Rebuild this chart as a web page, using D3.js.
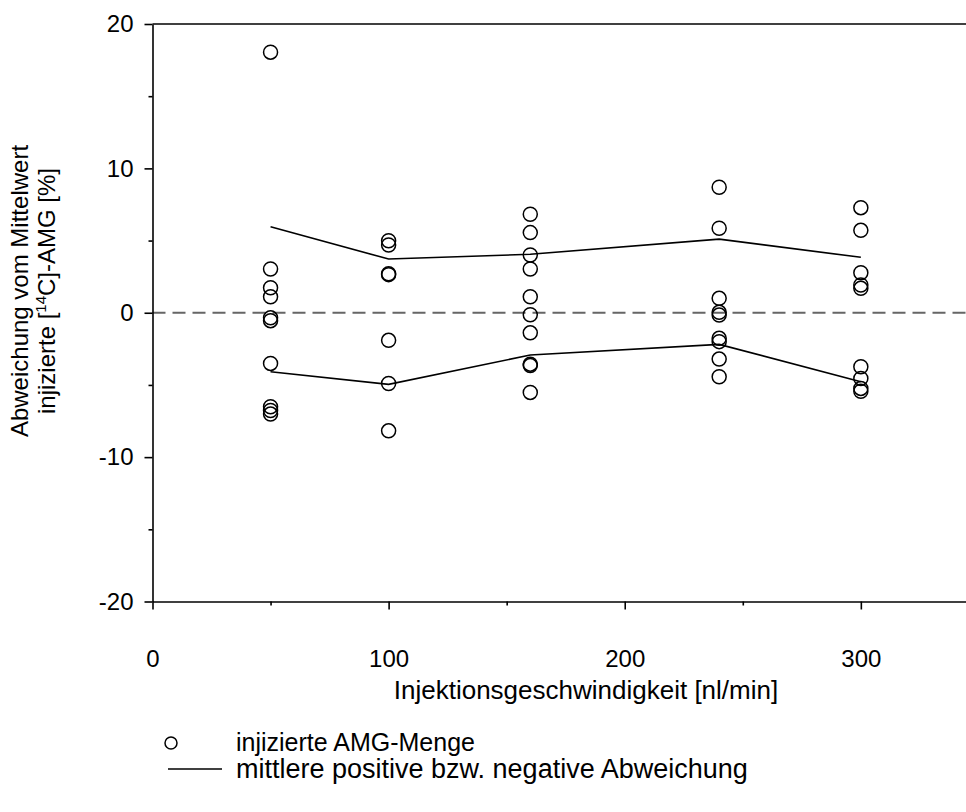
<!DOCTYPE html>
<html>
<head>
<meta charset="utf-8">
<script src="https://cdn.jsdelivr.net/npm/d3@7"></script>
<style>
  body { margin: 0; background: #fff; }
  svg { display: block; font-family: "Liberation Sans", Arial, sans-serif; }
</style>
</head>
<body>
<div id="chart"></div>
<script>
// injection speeds [nl/min]
const speeds = [50, 100, 160, 240, 300];

// deviation of each injection from mean [%], one list per speed
const points50 = [18.05, 3.03, 1.73, 1.11, -0.35, -0.55, -3.51, -6.51, -6.77, -7.02];
const points100 = [4.99, 4.69, 2.7, 2.64, -1.91, -4.9, -8.18];
const points160 = [6.82, 5.55, 4.0, 3.03, 1.11, -0.14, -1.39, -3.56, -3.66, -5.52];
const points240 = [8.69, 5.85, 1.0, 0.03, -0.16, -1.77, -2.0, -3.21, -4.43];
const points300 = [7.28, 5.71, 2.77, 1.92, 1.69, -3.74, -4.55, -5.24, -5.44];

// mean positive / negative deviation per speed
const meanPositive = [5.95, 3.72, 4.05, 5.1, 3.84];
const meanNegative = [-4.09, -4.96, -2.93, -2.19, -4.78];

const xTicks = [0, 100, 200, 300];
const yTicks = [-20, -10, 0, 10, 20];

const width = 966, height = 812;
const svg = d3.select("#chart").append("svg")
    .attr("width", width)
    .attr("height", height);

const x = d3.scaleLinear().domain([0, 350]).range([152.5, 978.9]);
const y = d3.scaleLinear().domain([-20, 20]).range([601.5, 24]);

// zero reference line
svg.append("line")
    .attr("x1", x(0)).attr("x2", x(350))
    .attr("y1", y(0)).attr("y2", y(0))
    .attr("stroke", "#666").attr("stroke-width", 2)
    .attr("stroke-dasharray", "13,7");

// frame (top and right edges)
svg.append("line")
    .attr("x1", x(0)).attr("x2", x(350))
    .attr("y1", y(20)).attr("y2", y(20))
    .attr("stroke", "#000").attr("stroke-width", 1.6);
svg.append("line")
    .attr("x1", x(350)).attr("x2", x(350))
    .attr("y1", y(20)).attr("y2", y(-20))
    .attr("stroke", "#000").attr("stroke-width", 1.6);

// axes
svg.append("g")
    .attr("transform", `translate(0,${y(-20)})`)
    .call(d3.axisBottom(x).tickValues(xTicks).tickFormat(d => d)
        .tickSize(8).tickPadding(40).tickSizeOuter(0));
svg.append("g")
    .attr("transform", `translate(0,${y(-20)})`)
    .call(d3.axisBottom(x).tickValues([50, 150, 250]).tickSize(4).tickFormat("").tickSizeOuter(0))
    .select(".domain").remove();

svg.append("g")
    .attr("transform", `translate(${x(0)},0)`)
    .call(d3.axisLeft(y).tickValues(yTicks).tickFormat(d => d)
        .tickSize(8).tickPadding(11).tickSizeOuter(0));
svg.append("g")
    .attr("transform", `translate(${x(0)},0)`)
    .call(d3.axisLeft(y).tickValues([-15, -5, 5, 15]).tickSize(4).tickFormat("").tickSizeOuter(0))
    .select(".domain").remove();

svg.selectAll(".domain, .tick line")
    .attr("stroke", "#000").attr("stroke-width", 1.6);
svg.selectAll(".tick text")
    .attr("fill", "#000")
    .style("font-size", "24px")
    .style("font-family", "'Liberation Sans', Arial, sans-serif");

// mean deviation lines
const line = d3.line()
    .x((d, i) => x(speeds[i]))
    .y(d => y(d));
[meanPositive, meanNegative].forEach(s => {
    svg.append("path")
        .datum(s)
        .attr("d", line)
        .attr("fill", "none")
        .attr("stroke", "#000")
        .attr("stroke-width", 1.6);
});

// data points
const groups = [points50, points100, points160, points240, points300];
const pts = [];
groups.forEach((g, i) => g.forEach(v => pts.push({ x: speeds[i], v })));
svg.append("g").selectAll("circle")
    .data(pts)
    .join("circle")
    .attr("cx", d => x(d.x))
    .attr("cy", d => y(d.v))
    .attr("r", 7)
    .attr("fill", "none")
    .attr("stroke", "#000")
    .attr("stroke-width", 1.5);

// axis titles
svg.append("text")
    .attr("x", 586).attr("y", 699)
    .attr("text-anchor", "middle")
    .style("font-size", "26px")
    .text("Injektionsgeschwindigkeit [nl/min]");

const yTitle = svg.append("g")
    .attr("transform", "translate(0,291) rotate(-90)");
yTitle.append("text")
    .attr("x", 0).attr("y", 28)
    .attr("text-anchor", "middle")
    .style("font-size", "24px")
    .text("Abweichung vom Mittelwert");
const t2 = yTitle.append("text")
    .attr("x", 0).attr("y", 55)
    .attr("text-anchor", "middle")
    .style("font-size", "24px");
t2.append("tspan").text("injizierte [");
t2.append("tspan").attr("dy", -9).style("font-size", "15px").text("14");
t2.append("tspan").attr("dy", 9).text("C]-AMG [%]");

// legend
svg.append("circle")
    .attr("cx", 171).attr("cy", 743).attr("r", 6)
    .attr("fill", "none").attr("stroke", "#000").attr("stroke-width", 1.5);
svg.append("text")
    .attr("x", 236).attr("y", 751)
    .style("font-size", "25px")
    .text("injizierte AMG-Menge");
svg.append("line")
    .attr("x1", 168).attr("x2", 222)
    .attr("y1", 769).attr("y2", 769)
    .attr("stroke", "#000").attr("stroke-width", 1.6);
svg.append("text")
    .attr("x", 236).attr("y", 778)
    .style("font-size", "27px")
    .text("mittlere positive bzw. negative Abweichung");
</script>
</body>
</html>
